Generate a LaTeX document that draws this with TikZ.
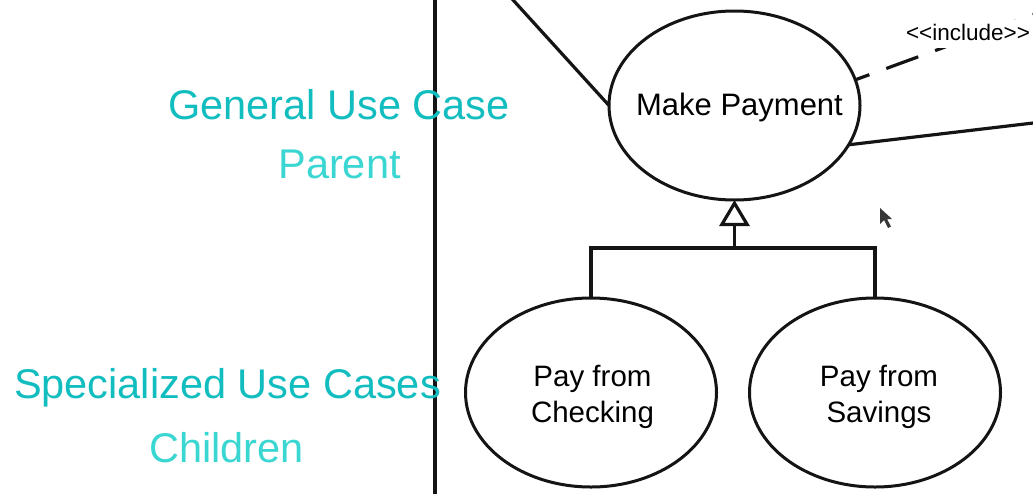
\documentclass[tikz,border=0pt]{standalone}
\usepackage{fontspec}
\setmainfont{Liberation Sans}
\usetikzlibrary{shapes.geometric,arrows.meta}
\definecolor{cyanA}{RGB}{18,189,192}
\definecolor{cyanB}{RGB}{58,214,210}
\definecolor{ink}{RGB}{20,20,20}
\tikzset{
  line/.style={draw=ink, line width=3.2pt},
  usecase/.style={ellipse, draw=ink, line width=3pt, minimum width=251pt,
    minimum height=189pt, inner sep=0pt, outer sep=0pt},
  uctext/.style={anchor=base, align=center, inner sep=0pt,
    font=\fontsize{29.5}{36}\selectfont},
  mptext/.style={anchor=base, inner sep=0pt, font=\fontsize{31}{36}\selectfont},
  bigA/.style={anchor=base, inner sep=0pt, text=cyanA,
    font=\fontsize{41.5}{48}\selectfont},
  bigB/.style={anchor=base, inner sep=0pt, text=cyanB,
    font=\fontsize{41.5}{48}\selectfont},
  stereo/.style={anchor=base, fill=white, inner xsep=1pt, inner ysep=4pt,
    text depth=4pt, font=\fontsize{22.5}{28}\selectfont},
  gen/.style={line, -{Triangle[open, length=26pt, width=30pt]}},
  incl/.style={line, dash pattern=on 34pt off 18pt, dash phase=19pt}
}
\begin{document}
\begin{tikzpicture}[x=1pt,y=1pt]
  \fill[white] (0,0) rectangle (1033,-493);
  \useasboundingbox (0,0) rectangle (1033,-493);

  % system boundary
  \coordinate (vt) at (435,5);
  \coordinate (vb) at (435,-498);
  \draw[line] (vt) -- (vb);

  % left captions
  \node[bigA] (gen) at (339,-119) {General Use Case};
  \node[bigB] (par) at (339.5,-178) {Parent};
  \node[bigA] (spec) at (227.5,-398) {Specialized Use Cases};
  \node[bigB] (chi) at (226.5,-462) {Children};

  % use cases
  \node[usecase] (mp) at (734.5,-105.5) {};
  \node[usecase] (c1) at (591,-392.5) {};
  \node[usecase] (c2) at (875,-392.5) {};
  \node[mptext] (mpt) at (739.5,-115) {Make Payment};
  \node[uctext] (c1t) at (592.5,-422) {Pay from\\Checking};
  \node[uctext] (c2t) at (879,-422) {Pay from\\Savings};

  % associations
  \coordinate (tl) at (508.5,5);
  \draw[line] (tl) -- (mp.west);
  \coordinate (rt) at (1045,-121.6);
  \draw[line] (mp.-19) -- (rt);

  % include
  \coordinate (inc) at (1045,-10.4);
  \draw[incl] (mp.12.5) -- (inc);
  \node[stereo] (inclbl) at (968,-40) {{<}{<}include{>}{>}};

  % generalization
  \coordinate (j) at (734.5,-248);
  \draw[line] (c1.north) |- (j) -| (c2.north);
  \draw[gen] (j) -- (mp.south);

  % mouse pointer
  \fill[ink, opacity=0.85] (880,-208) -- (880,-224) -- (884,-220) -- (888,-228)
    -- (891,-226.5) -- (887,-219) -- (892,-219) -- cycle;
\end{tikzpicture}
\end{document}
